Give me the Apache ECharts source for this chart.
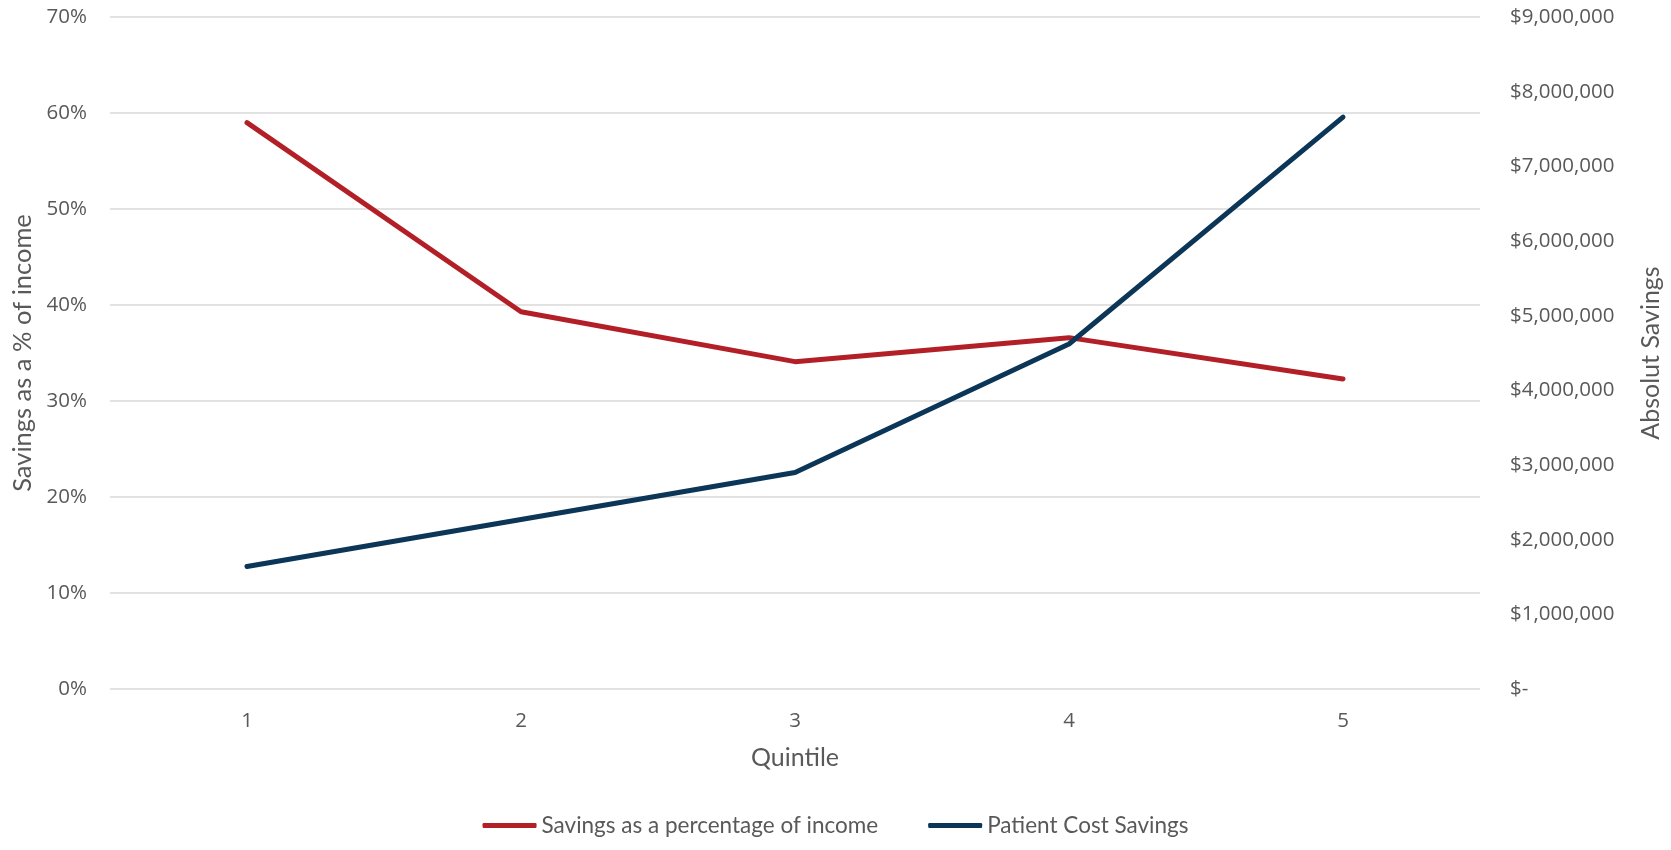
<!DOCTYPE html>
<html>
<head>
<meta charset="utf-8">
<script src="https://cdn.jsdelivr.net/npm/echarts@6/dist/echarts.min.js"></script>
<style>
  html, body { margin: 0; padding: 0; background: #ffffff; }
  #chart { width: 1671px; height: 850px; }
</style>
</head>
<body>
<div id="chart"></div>
<script>
// Quintiles on the x axis
const quintiles = ['1', '2', '3', '4', '5'];
// Savings as a percentage of income (left axis, %)
const savingsPct = [59.0, 39.3, 34.1, 36.6, 32.3];
// Patient cost savings in dollars (right axis)
const patientSavings = [1640000, 2270000, 2900000, 4620000, 7660000];

const seriesNames = ['Savings as a percentage of income', 'Patient Cost Savings'];
const axisTitles = { x: 'Quintile', left: 'Savings as a % of income', right: 'Absolut Savings' };

const textColor = '#595959';
const gridColor = '#D9D9D9';
const tickFont = '"Open Sans", "Noto Sans", sans-serif';
const titleFont = 'Lato, "Noto Sans", sans-serif';

const chart = echarts.init(document.getElementById('chart'), null, { renderer: 'canvas' });

chart.setOption({
  animation: false,
  backgroundColor: '#ffffff',
  color: ['#B31F27', '#0C3657'],
  grid: { left: 110, right: 190, top: 17, bottom: 161, containLabel: false },
  legend: {
    bottom: 8,
    left: 'center',
    itemWidth: 54,
    itemHeight: 5,
    itemGap: 50,
    icon: 'roundRect',
    textStyle: { color: textColor, fontFamily: titleFont, fontSize: 22.5 },
    data: seriesNames
  },
  xAxis: {
    type: 'category',
    data: quintiles,
    boundaryGap: true,
    name: axisTitles.x,
    nameLocation: 'middle',
    nameGap: 56,
    nameTextStyle: { color: textColor, fontFamily: titleFont, fontSize: 25 },
    axisLine: { show: false },
    axisTick: { show: false },
    axisLabel: { color: textColor, fontFamily: tickFont, fontSize: 20.5, margin: 22 },
    splitLine: { show: false }
  },
  yAxis: [
    {
      type: 'value',
      min: 0,
      max: 70,
      interval: 10,
      position: 'left',
      name: axisTitles.left,
      nameLocation: 'middle',
      nameGap: 72,
      nameRotate: 90,
      nameTextStyle: { color: textColor, fontFamily: titleFont, fontSize: 25.5 },
      axisLine: { show: false },
      axisTick: { show: false },
      axisLabel: { color: textColor, fontFamily: tickFont, fontSize: 20.5, margin: 23, formatter: '{value}%' },
      splitLine: { show: true, lineStyle: { color: gridColor, width: 1.5 } }
    },
    {
      type: 'value',
      min: 0,
      max: 9000000,
      interval: 1000000,
      position: 'right',
      name: axisTitles.right,
      nameLocation: 'middle',
      nameGap: 158,
      nameRotate: 90,
      nameTextStyle: { color: textColor, fontFamily: titleFont, fontSize: 25 },
      axisLine: { show: false },
      axisTick: { show: false },
      axisLabel: {
        color: textColor, fontFamily: tickFont, fontSize: 20.5, margin: 30,
        formatter: function (v) { return v === 0 ? '$-' : '$' + v.toLocaleString('en-US'); }
      },
      splitLine: { show: false }
    }
  ],
  series: [
    {
      name: seriesNames[0],
      type: 'line',
      yAxisIndex: 0,
      data: savingsPct,
      symbol: 'none',
      lineStyle: { width: 5, cap: 'round', join: 'round' }
    },
    {
      name: seriesNames[1],
      type: 'line',
      yAxisIndex: 1,
      data: patientSavings,
      symbol: 'none',
      lineStyle: { width: 5, cap: 'round', join: 'round' }
    }
  ]
});
</script>
</body>
</html>
